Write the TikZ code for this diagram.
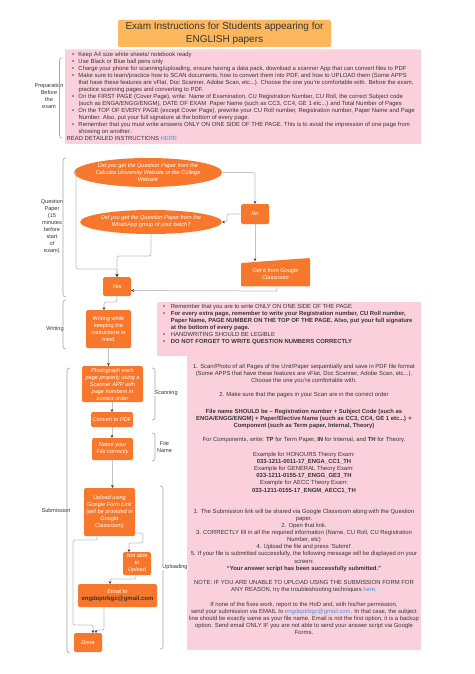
\documentclass[tikz,border=0pt]{standalone}
\usepackage{fontspec}
\setmainfont{Liberation Sans}
\usetikzlibrary{arrows.meta,shapes.geometric,calc}
\definecolor{orng}{RGB}{247,120,44}
\definecolor{ttl}{RGB}{252,182,92}
\definecolor{pnk}{RGB}{249,208,219}
\definecolor{lgray}{RGB}{195,195,195}
\definecolor{bgray}{RGB}{165,165,165}
\definecolor{dgray}{RGB}{55,55,55}
\definecolor{lnk}{RGB}{74,144,226}
\newcommand\myfs[2]{\fontsize{#1}{#2}\selectfont}
\newcommand\mybul[2]{\makebox[#2][l]{\hspace*{#1}\textbullet}}
\newcommand\BL{\mybul{5.5pt}{11.8pt}}
\newcommand\IND{\hspace*{11.8pt}}
\newcommand\BW{\mybul{6pt}{13.7pt}}
\newcommand\INW{\hspace*{13.7pt}}
\begin{document}
\begin{tikzpicture}[x=1pt,y=-1pt,
  obox/.style={fill=orng, rounded corners=1.5pt, text=white, font=\myfs{5.6}{7}\itshape, align=center, inner sep=0pt},
  oell/.style={ellipse, fill=orng, text=white, font=\myfs{5.6}{7.1}\itshape, align=center, inner sep=0pt},
  pbox/.style={fill=pnk, rounded corners=1pt, inner sep=0pt},
  ptext/.style={text=dgray, inner sep=0pt},
  lbl/.style={text=dgray, font=\myfs{5.6}{7}, align=center, inner sep=0pt},
  conn/.style={draw=lgray, line width=0.75pt, rounded corners=2pt, -{Stealth[length=2.8pt,width=2.8pt,color=dgray]}},
  brk/.style={draw=bgray, line width=0.6pt, rounded corners=2.5pt}]
\useasboundingbox (0,0) rectangle (474,674);
\fill[white] (0,0) rectangle (474,674);

% title
\node[fill=ttl, rounded corners=2pt, minimum width=213pt, minimum height=27pt, align=center, text=dgray, font=\myfs{10}{13}, inner sep=0pt] (title) at (224.5,33.5) {Exam Instructions for Students appearing for\\ENGLISH papers};

% preparation
\node[pbox, minimum width=356pt, minimum height=94.5pt] (prep) at (243,96.75) {};
\node[ptext, anchor=west, align=left, font=\myfs{5.9}{7}] (preptxt) at (66.5,96.2) {%
\BL Keep A4 size white sheets/ notebook ready\\
\BL Use Black or Blue ball pens only\\
\BL Charge your phone for scanning/uploading, ensure having a data pack, download a scanner App that can convert files to PDF\\
\BL Make sure to learn/practice how to SCAN documents, how to convert them into PDF, and how to UPLOAD them (Some APPS\\
\IND that have these features are vFlat, Doc Scanner, Adobe Scan, etc...). Choose the one you're comfortable with. Before the exam,\\
\IND practice scanning pages and converting to PDF.\\
\BL On the FIRST PAGE (Cover Page), write: Name of Examination, CU Registration Number, CU Roll, the correct Subject code\\
\IND (such as ENGA/ENGG/ENGM), DATE OF EXAM\ \ Paper Name (such as CC3, CC4, GE 1 etc...) and Total Number of Pages\\
\BL On the TOP OF EVERY PAGE (except Cover Page), prewrite your CU Roll number, Registration number, Paper Name and Page\\
\IND Number. Also, put your full signature at the bottom of every page.\\
\BL Remember that you must write answers ONLY ON ONE SIDE OF THE PAGE. This is to avoid the impression of one page from\\
\IND showing on another.\\
READ DETAILED INSTRUCTIONS \textcolor{lnk}{HERE}};
\node[lbl] (lprep) at (49,96.3) {Preparation\\Before\\the\\exam};
\draw[brk] (62,58) -- (59.5,58) -- (59.5,138) -- (62,138);

% question paper
\node[oell, minimum width=130pt, minimum height=29pt] (q1) at (148,172.5) {Did you get the Question Paper from the\\Calcutta University Website or the College\\Website};
\node[obox, minimum width=28pt, minimum height=20pt] (no) at (255,214) {No};
\node[oell, minimum width=114pt, minimum height=24pt] (q2) at (151,222) {Did you get the Question Paper from the\\WhatsApp group of your batch?};
\fill[orng, rounded corners=1pt] (241,263) -- (310,258) -- (310,286.3) -- (241,286.3) -- cycle;
\node[obox, fill=none, minimum width=69pt, minimum height=25pt] (get) at (275.5,273.8) {Get it from Google\\Classroom};
\node[obox, minimum width=28pt, minimum height=19pt] (yes) at (117,286.5) {Yes};
\node[lbl] (lqp) at (52,227) {Question\\Paper\\(15\\minutes\\before\\start\\of\\exam)};
\draw[brk] (66,158) -- (63,158) -- (63,297) -- (66,297);

\draw[conn] (q1.east) -- (255,172.5) -- (no.north);
\draw[conn] (q1.west) -- (76,172.5) -- (76,269) -- (117,269) -- (yes.north);
\draw[conn] (no.west) -- (227,214) -- (227,222) -- (q2.east);
\draw[conn] (no.south) -- (no.south |- get.north);
\draw[conn] (q2.south) -- (151,256) -- (117,256) -- (yes.north);
\draw[conn] (277,286.3) -- (277,291) -- ($(yes.east)+(0,4)$);

% writing
\node[obox, font=\myfs{5.6}{6.8}, minimum width=45pt, minimum height=38pt] (write) at (108.5,329) {Writing while\\keeping the\\instructions in\\mind};
\node[pbox, minimum width=264pt, minimum height=54pt] (wpink) at (289,329) {};
\node[ptext, anchor=west, align=left, font=\myfs{5.9}{7}] (wtxt) at (157,324.8) {%
\BW Remember that you are to write ONLY ON ONE SIDE OF THE PAGE\\
\BW \textbf{For every extra page, remember to write your Registration number, CU Roll number,}\\
\INW \textbf{Paper Name, PAGE NUMBER ON THE TOP OF THE PAGE. Also, put your full signature}\\
\INW \textbf{at the bottom of every page.}\\
\BW HANDWRITING SHOULD BE LEGIBLE\\
\BW \textbf{DO NOT FORGET TO WRITE QUESTION NUMBERS CORRECTLY}};
\node[lbl] (lwr) at (55,329) {Writing};
\draw[brk] (66,300) -- (63,300) -- (63,349) -- (66,349);
\draw[conn] (yes.south) -- (117,302) -- (104,302) -- (104,310);

% big pink
\node[pbox, minimum width=234pt, minimum height=294pt] (big) at (304,503) {};
\node[ptext, align=center, font=\myfs{5.9}{7.1}] (ta) at (304,374) {1. Scan/Photo of all Pages of the Unit/Paper sequentially and save in PDF file format\\(Some APPS that have these features are vFlat, Doc Scanner, Adobe Scan, etc...).\\Choose the one you're comfortable with.};
\node[ptext, align=center, font=\myfs{5.9}{7.1}] (tb) at (304,395.3) {2. Make sure that the pages in your Scan are in the correct order};
\node[ptext, align=center, font=\myfs{5.9}{7.1}\bfseries] (tc) at (304,419) {File name SHOULD be – Registration number + Subject Code (such as\\ENGA/ENGG/ENGM) + Paper/Elective Name (such as CC3, CC4, GE 1 etc...) +\\Component (such as Term paper, Internal, Theory)};
\node[ptext, align=center, font=\myfs{5.9}{7.1}] (td) at (304,440.3) {For Components, write: \textbf{TP} for Term Paper, \textbf{IN} for Internal, and \textbf{TH} for Theory.};
\node[ptext, align=center, font=\myfs{5.9}{7.1}] (te) at (304,472.5) {Example for HONOURS Theory Exam:\\\textbf{033-1211-0011-17\_ENGA\_CC1\_TH}\\Example for GENERAL Theory Exam:\\\textbf{033-1211-0155-17\_ENGG\_GE3\_TH}\\Example for AECC Theory Exam:\\\textbf{033-1211-0155-17\_ENGM\_AECC1\_TH}};
\node[ptext, align=center, font=\myfs{5.9}{7.1}] (tf) at (304,540.2) {1. The Submission link will be shared via Google Classroom along with the Question\\paper.\\2. Open that link.\\3. CORRECTLY fill in all the required information (Name, CU Roll, CU Registration\\Number, etc)\\4. Upload the file and press `Submit'\\5. If your file is submitted successfully, the following message will be displayed on your\\screen:\\\textbf{``Your answer script has been successfully submitted.''}};
\node[ptext, align=center, font=\myfs{5.9}{7.1}] (tg) at (304,586.3) {NOTE: IF YOU ARE UNABLE TO UPLOAD USING THE SUBMISSION FORM FOR\\ANY REASON, try the troubleshooting techniques \textcolor{lnk}{here}.};
\node[ptext, align=center, font=\myfs{5.9}{7.1}] (th) at (304,618.5) {If none of the fixes work, report to the HoD and, with his/her permission,\\send your submission via EMAIL to \textcolor{lnk}{engdeptrbgc@gmail.com}. In that case, the subject\\line should be exactly same as your file name. Email is not the first option, it is a backup\\option. Send email ONLY IF you are not able to send your answer script via Google\\Forms.};

% scanning steps
\node[obox, minimum width=61pt, minimum height=36pt] (photo) at (112.5,384) {Photograph each\\page properly using a\\Scanner APP with\\page numbers in\\correct order};
\node[obox, minimum width=42pt, minimum height=15pt] (conv) at (112,419.5) {Convert to PDF};
\node[obox, minimum width=41pt, minimum height=22pt] (name) at (112.5,449) {Name your\\File correctly};
\draw[conn] (write.south) -- (write.south |- photo.north);
\draw[conn] (112,402) -- (112,412);
\draw[conn] (conv.south) -- (conv.south |- name.north);
\draw[brk] (152,368) -- (155,368) -- (155,420) -- (152,420);
\draw[brk] (152,433) -- (155,433) -- (155,461) -- (152,461);
\node[lbl, fill=white, inner sep=0.6pt] (lscan) at (166,393) {Scanning};
\node[lbl] (lfile) at (164.5,446.5) {File\\Name};

% submission
\node[obox, minimum width=51pt, minimum height=48pt] (up) at (109.5,512) {Upload using\\Google Form Link\\(will be provided in\\Google\\Classroom)};
\node[obox, minimum width=28pt, minimum height=23pt] (nab) at (137,563.5) {Not able\\to\\Upload};
\node[obox, minimum width=79pt, minimum height=23pt] (email) at (117.5,595.5) {Email to\\[0.2pt]{\upshape\bfseries\color{dgray}\myfs{6}{7}engdeptrbgc@gmail.com}};
\node[obox, minimum width=28pt, minimum height=19pt] (done) at (88,642.5) {Done};
\draw[conn] (name.south) -- (name.south |- up.north);
\draw[conn] (97,536) -- (97,540) -- (73,540) -- (73,625) -- (93,625) -- (93,633);
\draw[conn] (135,533) -- (143,533) -- (143,543) -- (129,543) -- (129,552);
\draw[conn] (136,575) -- (136,579) -- (110,579) -- (110,584);
\draw[conn] (104,607) -- (104,630) -- (96,630) -- (96,633);
\draw[brk] (70,368) -- (67,368) -- (67,653) -- (70,653);
\draw[brk] (160,486) -- (163,486) -- (163,649) -- (160,649);
\node[lbl] (lsub) at (56,510) {Submission};
\node[lbl, fill=white, inner sep=0.6pt] (lup) at (175,567) {Uploading};
\end{tikzpicture}
\end{document}
